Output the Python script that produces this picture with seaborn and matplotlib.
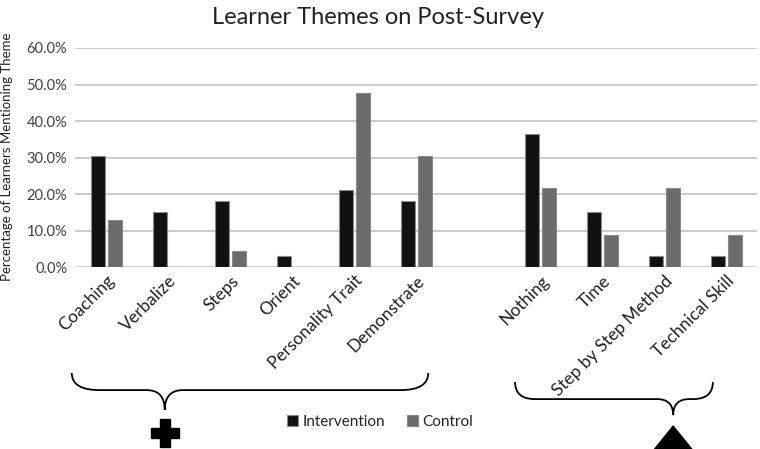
import pandas as pd
import matplotlib.pyplot as plt
import seaborn as sns
from matplotlib.path import Path
from matplotlib.patches import PathPatch, Polygon
from matplotlib.transforms import blended_transform_factory
from matplotlib.ticker import PercentFormatter

# Data (percent of learners)
themes = ['Coaching', 'Verbalize', 'Steps', 'Orient', 'Personality Trait', 'Demonstrate',
          'Nothing', 'Time', 'Step by Step Method', 'Technical Skill']
intervention = [30.3, 15.2, 18.2, 3.0, 21.2, 18.2, 36.4, 15.2, 3.0, 3.0]
control = [13.0, 0.0, 4.3, 0.0, 47.8, 30.4, 21.7, 8.7, 21.7, 8.7]
groups = ['Intervention', 'Control']
spacer = ' '
order = themes[:6] + [spacer] + themes[6:]

df = pd.DataFrame({
    'theme': themes * 2,
    'group': [groups[0]] * len(themes) + [groups[1]] * len(themes),
    'value': intervention + control,
})

sns.set_style('white')
plt.rcParams['font.family'] = ['Lato', 'DejaVu Sans']
text_color = '#404040'


def draw_brace(ax, x0, x1, xc, ytop, yline, ytip, rx, rc):
    """Curly brace below the axis: x in category units, y in axes fraction"""
    trans = blended_transform_factory(ax.transData, ax.transAxes)
    verts = [(x0, ytop), (x0, yline), (x0 + rx, yline),
             (xc - rc, yline), (xc, yline), (xc, ytip),
             (xc, yline), (xc + rc, yline),
             (x1 - rx, yline), (x1, yline), (x1, ytop)]
    codes = [Path.MOVETO, Path.CURVE3, Path.CURVE3,
             Path.LINETO, Path.CURVE3, Path.CURVE3,
             Path.CURVE3, Path.CURVE3,
             Path.LINETO, Path.CURVE3, Path.CURVE3]
    ax.add_patch(PathPatch(Path(verts, codes), fill=False, lw=1.3, color='black',
                           transform=trans, clip_on=False))
    return trans


fig = plt.figure(figsize=(7.6, 4.49), dpi=100)
ax = fig.add_axes([0.0993, 0.4053, 0.8974, 0.4878])

sns.barplot(data=df, x='theme', y='value', hue='group', order=order, hue_order=groups,
            palette=['#111111', '#6b6b6b'], width=0.52, gap=0.13,
            edgecolor='#8a8a8a', linewidth=0.8, ax=ax)

ax.set_ylim(0, 60)
ax.set_xlim(-0.5, len(order) - 0.5)
ax.set_yticks(range(0, 61, 10))
ax.yaxis.set_major_formatter(PercentFormatter(100, decimals=1))
ax.grid(axis='y', color='#c4c4c4', lw=1.2)
ax.set_axisbelow(True)
for s in ax.spines.values():
    s.set_visible(False)
ax.tick_params(axis='both', length=0)
ax.tick_params(axis='y', labelsize=10.5, labelcolor=text_color, pad=6)
ax.set_xlabel('')
ax.set_ylabel('')
plt.setp(ax.get_xticklabels(), rotation=45, ha='right', rotation_mode='anchor',
         fontsize=12.5, color='#222222')
ax.tick_params(axis='x', pad=4)

fig.text(0.497, 1 - 17 / 449, 'Learner Themes on Post-Survey', ha='center', va='center',
         fontsize=17, color='#222222')
fig.text(0.009, 1 - 157 / 449, 'Percentage of Learners Mentioning Theme', rotation=90,
         ha='center', va='center', fontsize=9.5, color='#222222')

# Braces with their markers
trans = draw_brace(ax, -0.56, 5.19, 0.94, -0.484, -0.562, -0.653, 0.45, 0.29)
ax.plot([0.94], [-0.758], marker='P', ms=20, color='black', transform=trans, clip_on=False)
draw_brace(ax, 6.59, 9.78, 9.14, -0.525, -0.603, -0.676, 0.32, 0.26)
ax.add_patch(Polygon([(9.14, -0.726), (8.56, -0.93), (9.72, -0.93)], closed=True,
                     color='black', transform=trans, clip_on=False))

ax.legend(loc='center', bbox_to_anchor=(0.5, 0.06), bbox_transform=fig.transFigure,
          ncol=2, frameon=False, handlelength=0.75, handleheight=0.75,
          handletextpad=0.3, columnspacing=1.4, fontsize=11, labelcolor='#222222')

plt.savefig('out.png', dpi=100)
